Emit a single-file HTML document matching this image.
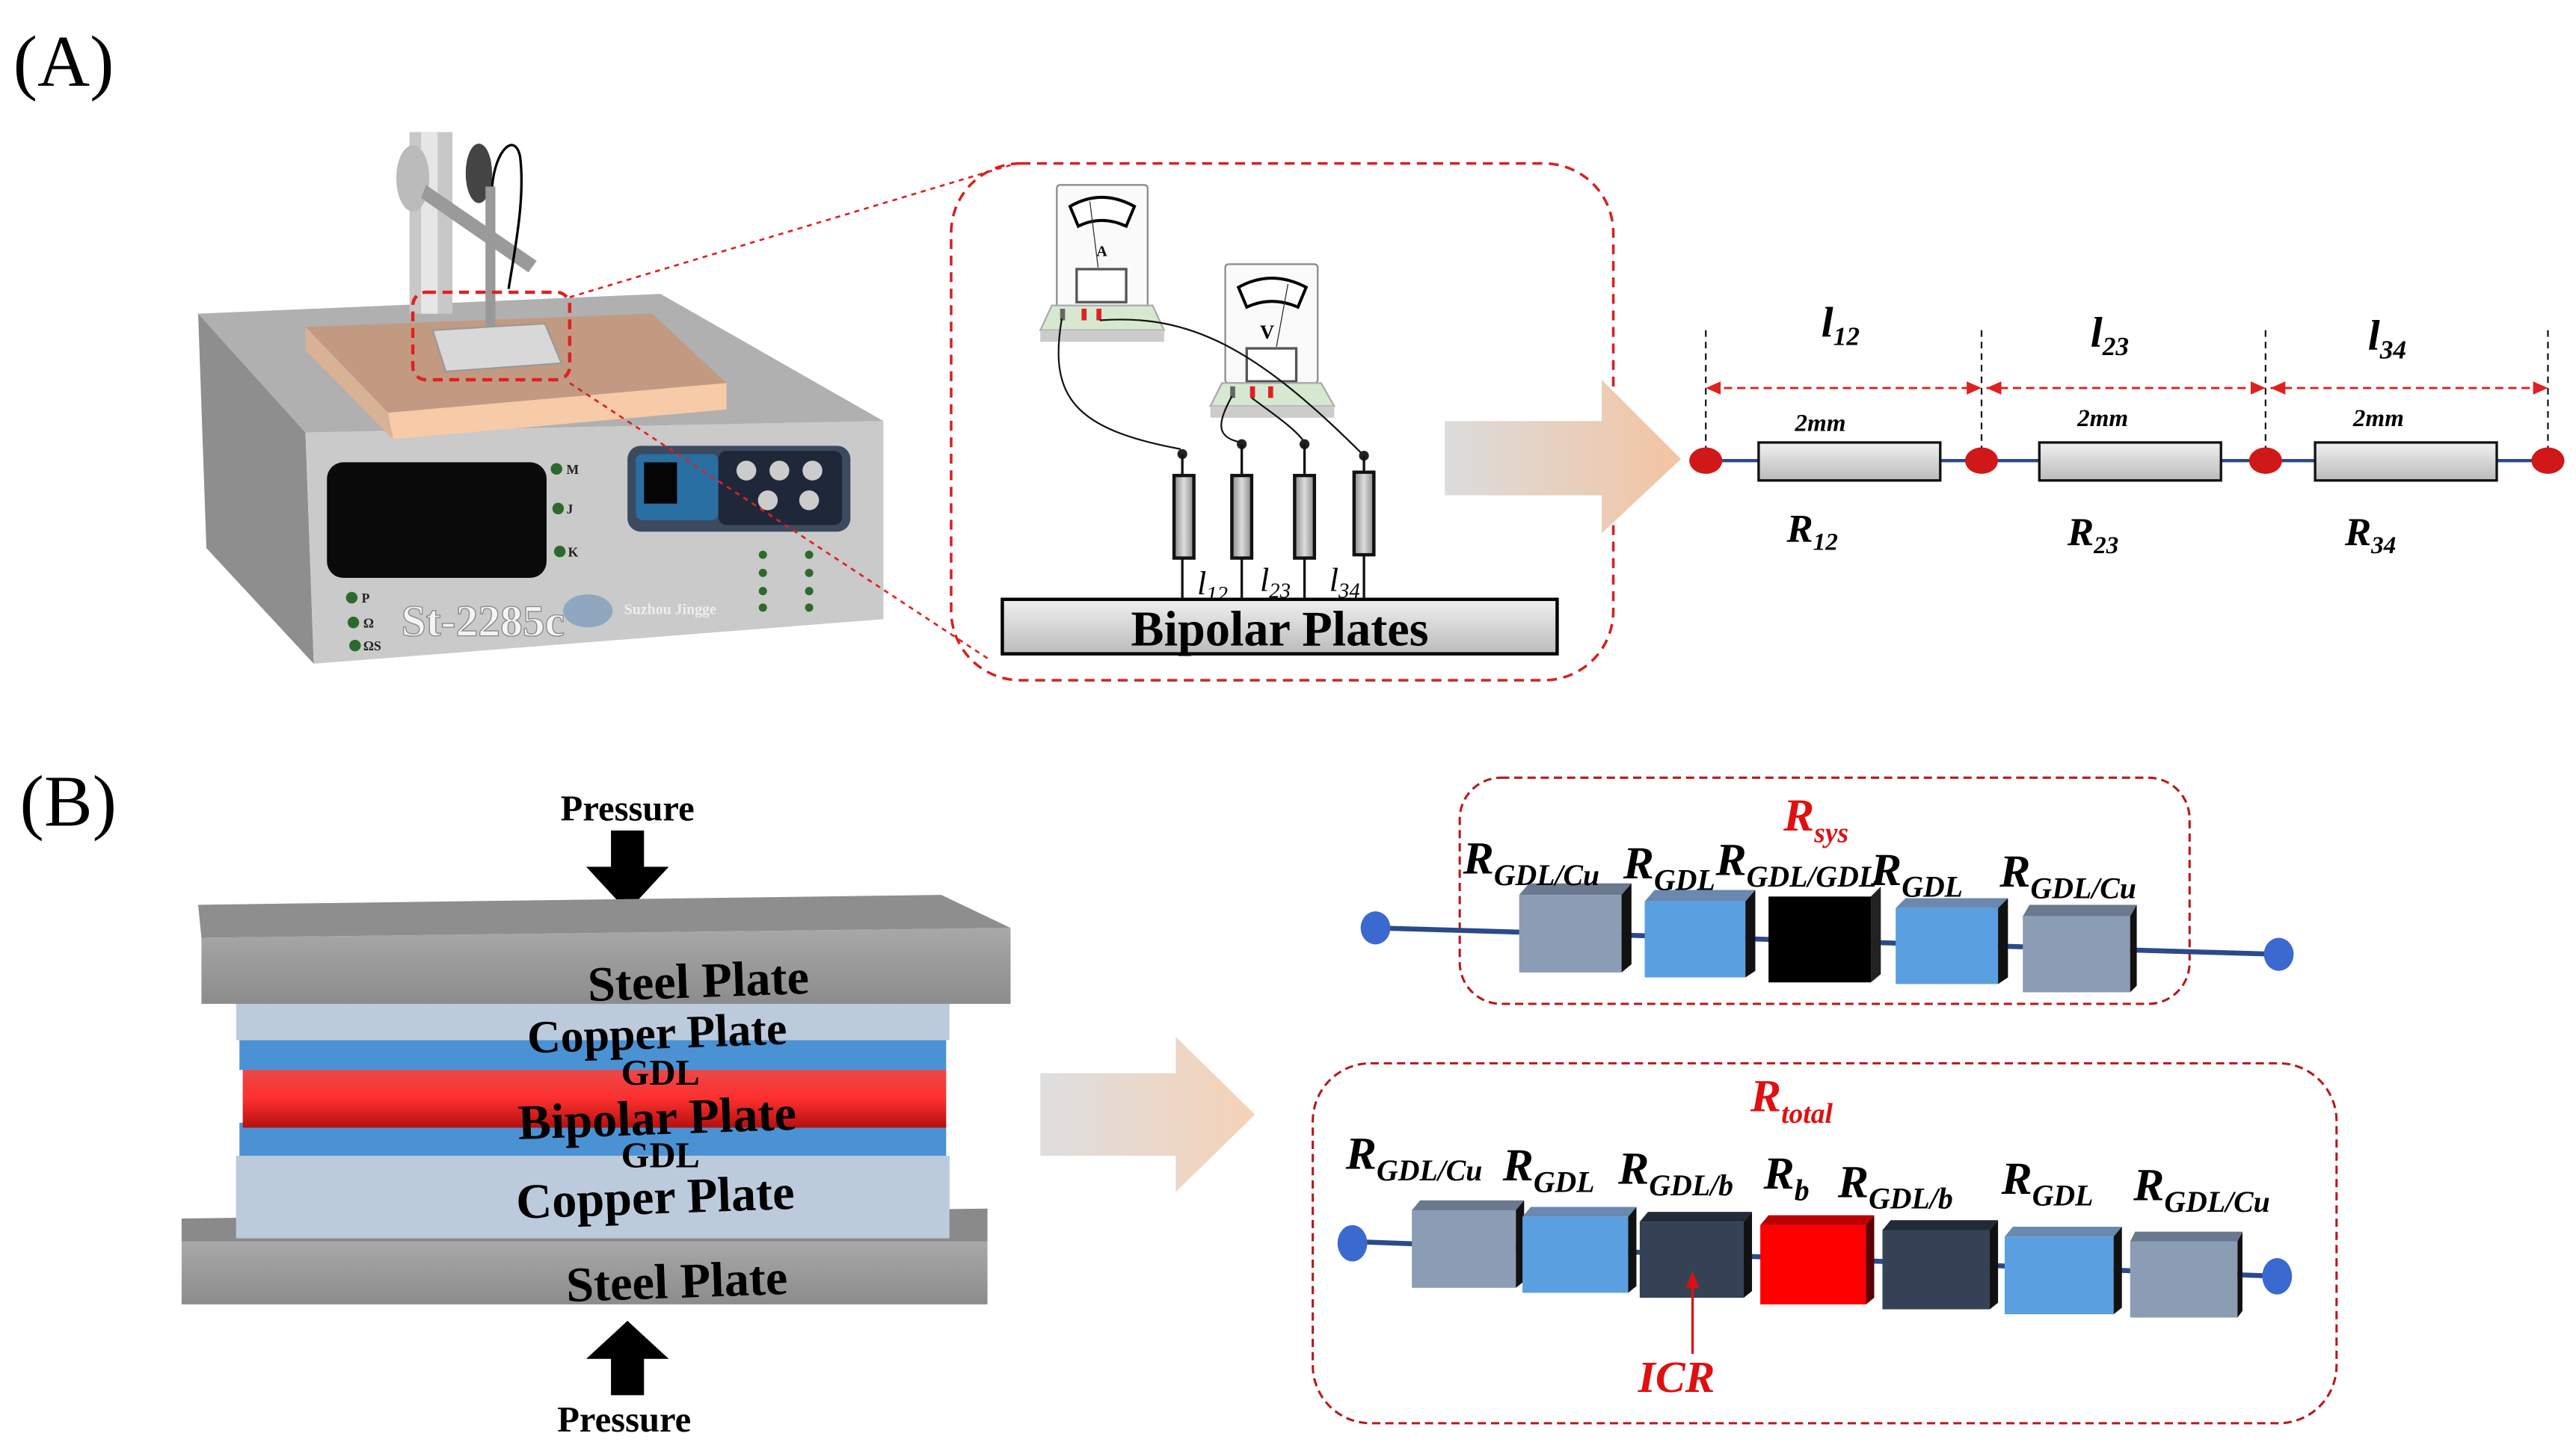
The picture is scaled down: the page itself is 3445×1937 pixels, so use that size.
<!DOCTYPE html>
<html><head><meta charset="utf-8"><style>
html,body{margin:0;padding:0;background:#fff;}
svg{display:block;}
text{font-family:"Liberation Serif",serif;}
</style></head><body>
<svg width="3445" height="1937" viewBox="0 0 1560 877" preserveAspectRatio="none" xmlns="http://www.w3.org/2000/svg">
<defs>
<linearGradient id="arr" x1="0" x2="1" y1="0" y2="0"><stop offset="0" stop-color="#dcdcdc"/><stop offset="1" stop-color="#f3c4a2"/></linearGradient>
<linearGradient id="arr2" x1="0" x2="1" y1="0" y2="0"><stop offset="0" stop-color="#dedede"/><stop offset="1" stop-color="#f6d2b8"/></linearGradient>
<linearGradient id="red" x1="0" x2="0" y1="0" y2="1"><stop offset="0" stop-color="#e84a4a"/><stop offset="0.5" stop-color="#ff3030"/><stop offset="1" stop-color="#b51010"/></linearGradient>
<linearGradient id="steel" x1="0" x2="0" y1="0" y2="1"><stop offset="0" stop-color="#a8a8a8"/><stop offset="1" stop-color="#8c8c8c"/></linearGradient>
<linearGradient id="res" x1="0" x2="1"><stop offset="0" stop-color="#888"/><stop offset="0.5" stop-color="#ddd"/><stop offset="1" stop-color="#888"/></linearGradient>
<linearGradient id="resh" x1="0" x2="0" y1="0" y2="1"><stop offset="0" stop-color="#f0f0f0"/><stop offset="1" stop-color="#bbb"/></linearGradient>
</defs>

<text x="8" y="52" font-size="44">(A)</text>

<polygon points="120,190 400,178 535,255 185,262" fill="#b0b0b0"/>
<polygon points="120,190 185,262 190,402 125,332" fill="#8e8e8e"/>
<polygon points="185,262 535,255 535,375 190,402" fill="#cacaca"/>
<polygon points="185,198 395,190 440,232 235,250" fill="#c29a82"/>
<polygon points="235,250 440,232 440,248 238,266" fill="#f7caa8"/>
<polygon points="185,198 235,250 238,266 185,212" fill="#d9b296"/>
<rect x="248" y="80" width="26" height="110" fill="#c8c8c8"/>
<rect x="255" y="80" width="10" height="110" fill="#e6e6e6"/>
<ellipse cx="250" cy="108" rx="10" ry="20" fill="#bbb"/>
<ellipse cx="290" cy="105" rx="8" ry="18" fill="#444"/>
<polygon points="258,112 325,158 320,165 255,120" fill="#9a9a9a"/>
<rect x="294" y="113" width="6" height="85" fill="#999"/>
<path d="M298,113 C300,90 312,80 315,95 C318,120 312,150 308,175" stroke="#000" fill="none" stroke-width="1.5"/>
<polygon points="262,200 330,196 340,220 270,225" fill="#d8d8d8" stroke="#999"/>
<rect x="198" y="280" width="133" height="70" rx="10" fill="#0a0a0a"/>
<rect x="380" y="270" width="135" height="52" rx="8" fill="#3b4a5e"/>
<rect x="385" y="275" width="50" height="40" rx="4" fill="#2a6fa3"/>
<rect x="390" y="280" width="20" height="25" fill="#050505"/>
<rect x="435" y="273" width="75" height="45" rx="5" fill="#1f2838"/>
<circle cx="452" cy="285" r="6" fill="#ccc"/><circle cx="472" cy="285" r="6" fill="#ccc"/><circle cx="492" cy="285" r="6" fill="#ccc"/>
<circle cx="465" cy="303" r="6" fill="#ccc"/><circle cx="490" cy="303" r="6" fill="#ccc"/>
<g fill="#2c6a2c"><circle cx="213" cy="362" r="3.5"/><circle cx="214" cy="377" r="3.5"/><circle cx="215" cy="391" r="3.5"/><circle cx="337" cy="284" r="3.5"/><circle cx="338" cy="308" r="3.5"/><circle cx="339" cy="334" r="3.5"/>
<circle cx="462" cy="336" r="2.5"/><circle cx="462" cy="347" r="2.5"/><circle cx="462" cy="358" r="2.5"/><circle cx="462" cy="368" r="2.5"/><circle cx="490" cy="336" r="2.5"/><circle cx="490" cy="347" r="2.5"/><circle cx="490" cy="358" r="2.5"/><circle cx="490" cy="368" r="2.5"/></g>
<g font-size="8" font-weight="bold" fill="#222"><text x="219" y="365">P</text><text x="220" y="380">Ω</text><text x="220" y="394">ΩS</text><text x="343" y="287">M</text><text x="343" y="311">J</text><text x="344" y="337">K</text></g>
<text x="243" y="385" font-size="27" font-weight="bold" fill="#f4f4f4" stroke="#888" stroke-width="0.6">St-2285c</text>
<ellipse cx="356" cy="370" rx="15" ry="10" fill="#8fa8c0"/>
<text x="378" y="372" font-size="9" fill="#eee" font-weight="bold">Suzhou Jingge</text>

<rect x="250" y="177" width="95" height="53" rx="8" fill="none" stroke="#e02020" stroke-width="2" stroke-dasharray="6,4"/>
<line x1="345" y1="180" x2="612" y2="100" stroke="#e02020" stroke-width="1.2" stroke-dasharray="3,3"/>
<line x1="345" y1="232" x2="600" y2="400" stroke="#e02020" stroke-width="1.2" stroke-dasharray="3,3"/>

<rect x="576" y="99" width="401" height="313" rx="42" fill="none" stroke="#d92020" stroke-width="1.6" stroke-dasharray="6,4"/>
<rect x="640" y="112" width="55" height="75" rx="2" fill="#fafafa" stroke="#888"/>
<path d="M648,125 Q667,114 687,125 L682,137 Q667,130 653,137 Z" fill="#fff" stroke="#000" stroke-width="1.8"/>
<line x1="660" y1="122" x2="665" y2="162" stroke="#333" stroke-width="0.6"/>
<text x="664" y="155" font-size="9" font-weight="bold">A</text>
<rect x="652" y="163" width="30" height="20" fill="#fff" stroke="#555" stroke-width="1.5"/>
<polygon points="637,185 698,185 705,200 630,200" fill="#d6e8d0" stroke="#aaa"/>
<rect x="630" y="200" width="75" height="7" fill="#ccc"/>
<rect x="642" y="187" width="3" height="7" fill="#666"/><rect x="655" y="187" width="3" height="7" fill="#e02020"/><rect x="664" y="187" width="3" height="7" fill="#e02020"/>
<rect x="742" y="160" width="56" height="72" rx="2" fill="#fafafa" stroke="#888"/>
<path d="M750,174 Q770,163 791,174 L786,186 Q770,179 755,186 Z" fill="#fff" stroke="#000" stroke-width="1.8"/>
<line x1="780" y1="172" x2="773" y2="210" stroke="#333" stroke-width="0.6"/>
<text x="763" y="205" font-size="12" font-weight="bold">V</text>
<rect x="755" y="211" width="30" height="20" fill="#fff" stroke="#555" stroke-width="1.5"/>
<polygon points="740,232 800,232 808,246 733,246" fill="#d6e8d0" stroke="#aaa"/>
<rect x="733" y="246" width="75" height="7" fill="#ccc"/>
<rect x="745" y="234" width="3" height="7" fill="#666"/><rect x="757" y="234" width="3" height="7" fill="#e02020"/><rect x="768" y="234" width="3" height="7" fill="#e02020"/>
<g stroke="#111" fill="none" stroke-width="1"><path d="M643,193 C635,240 650,260 715,272"/><path d="M666,194 C720,190 760,210 825,275"/><path d="M746,240 C738,255 735,265 752,268"/><path d="M758,241 C770,250 785,260 790,268"/></g>
<g fill="#222"><circle cx="716" cy="275" r="3"/><circle cx="752" cy="269" r="3"/><circle cx="790" cy="269" r="3"/><circle cx="826" cy="276" r="3"/></g>
<g stroke="#111" stroke-width="1.5"><line x1="716" y1="275" x2="716" y2="362"/><line x1="752" y1="269" x2="752" y2="362"/><line x1="790" y1="269" x2="790" y2="362"/><line x1="826" y1="276" x2="826" y2="362"/></g>
<g fill="url(#res)" stroke="#111" stroke-width="2"><rect x="711" y="288" width="12" height="50"/><rect x="746" y="288" width="12" height="50"/><rect x="784" y="288" width="12" height="50"/><rect x="820" y="286" width="12" height="50"/></g>
<g font-size="20" font-style="italic"><text x="725" y="360">l<tspan font-size="13" dy="4">12</tspan></text><text x="763" y="358">l<tspan font-size="13" dy="4">23</tspan></text><text x="805" y="358">l<tspan font-size="13" dy="4">34</tspan></text></g>
<rect x="607" y="363" width="336" height="33" fill="url(#resh)" stroke="#000" stroke-width="2"/>
<text x="775" y="391" font-size="30" font-weight="bold" text-anchor="middle">Bipolar Plates</text>

<polygon points="875,255 970,255 970,230 1018,278 970,323 970,300 875,300" fill="url(#arr)"/>

<g stroke="#111" stroke-dasharray="4,3" stroke-width="1"><line x1="1033" y1="200" x2="1033" y2="276"/><line x1="1200" y1="200" x2="1200" y2="276"/><line x1="1372" y1="200" x2="1372" y2="276"/><line x1="1543" y1="200" x2="1543" y2="276"/></g>
<g stroke="#e02020" stroke-dasharray="5,3" stroke-width="1.3"><line x1="1036" y1="235" x2="1197" y2="235"/><line x1="1203" y1="235" x2="1369" y2="235"/><line x1="1375" y1="235" x2="1540" y2="235"/></g>
<g fill="#e02020"><polygon points="1033,235 1042,231 1042,239"/><polygon points="1200,235 1191,231 1191,239"/><polygon points="1203,235 1212,231 1212,239"/><polygon points="1372,235 1363,231 1363,239"/><polygon points="1375,235 1384,231 1384,239"/><polygon points="1543,235 1534,231 1534,239"/></g>
<line x1="1033" y1="279" x2="1545" y2="279" stroke="#2a4a8a" stroke-width="2"/>
<g fill="url(#resh)" stroke="#111" stroke-width="1.5"><rect x="1065" y="268" width="110" height="23"/><rect x="1235" y="268" width="110" height="23"/><rect x="1402" y="268" width="110" height="23"/></g>
<g fill="#d01818"><ellipse cx="1033" cy="279" rx="10" ry="8"/><ellipse cx="1200" cy="279" rx="10" ry="8"/><ellipse cx="1372" cy="279" rx="10" ry="8"/><ellipse cx="1543" cy="279" rx="10" ry="8"/></g>
<g font-style="italic" font-weight="bold">
<text x="1103" y="204" font-size="26">l<tspan font-size="16" dy="5">12</tspan></text>
<text x="1266" y="210" font-size="26">l<tspan font-size="16" dy="5">23</tspan></text>
<text x="1434" y="212" font-size="26">l<tspan font-size="16" dy="5">34</tspan></text>
<text x="1087" y="261" font-size="15">2mm</text><text x="1258" y="258" font-size="15">2mm</text><text x="1425" y="258" font-size="15">2mm</text>
<text x="1082" y="328" font-size="24">R<tspan font-size="15" dy="5">12</tspan></text>
<text x="1252" y="330" font-size="24">R<tspan font-size="15" dy="5">23</tspan></text>
<text x="1420" y="330" font-size="24">R<tspan font-size="15" dy="5">34</tspan></text>
</g>

<text x="12" y="500" font-size="44">(B)</text>
<text x="380" y="497" font-size="22" font-weight="bold" text-anchor="middle">Pressure</text>
<polygon points="370,503 390,503 390,525 405,525 380,552 355,525 370,525" fill="#000"/>
<polygon points="380,800 405,823 390,823 390,845 370,845 370,823 355,823" fill="#000"/>
<text x="378" y="867" font-size="22" font-weight="bold" text-anchor="middle">Pressure</text>

<polygon points="143,748 575,748 575,700 143,700" fill="#b8c6d8"/>
<polygon points="110,738 598,732 598,752 110,752" fill="#8a8a8a"/>
<rect x="110" y="752" width="488" height="38" fill="url(#steel)"/>
<text x="410" y="786" font-size="30" font-weight="bold" text-anchor="middle" transform="rotate(-2 410 780)">Steel Plate</text>
<rect x="143" y="700" width="432" height="50" fill="#bccbdc"/>
<text x="397" y="735" font-size="30" font-weight="bold" text-anchor="middle" transform="rotate(-2 397 730)">Copper Plate</text>
<rect x="145" y="680" width="428" height="20" fill="#4a92d4"/>
<text x="400" y="707" font-size="22" font-weight="bold" text-anchor="middle">GDL</text>
<rect x="147" y="647" width="426" height="36" fill="url(#red)"/>
<text x="398" y="687" font-size="30" font-weight="bold" text-anchor="middle" transform="rotate(-2 398 680)">Bipolar Plate</text>
<rect x="145" y="630" width="428" height="18" fill="#4a92d4"/>
<text x="400" y="657" font-size="22" font-weight="bold" text-anchor="middle">GDL</text>
<rect x="143" y="600" width="432" height="30" fill="#bccbdc"/>
<text x="398" y="635" font-size="28" font-weight="bold" text-anchor="middle" transform="rotate(-2 398 630)">Copper Plate</text>
<polygon points="120,548 570,542 612,562 122,568" fill="#8e8e8e"/>
<polygon points="122,568 612,562 612,608 122,608" fill="url(#steel)"/>
<text x="423" y="604" font-size="30" font-weight="bold" text-anchor="middle" transform="rotate(-2 423 598)">Steel Plate</text>

<polygon points="630,650 712,650 712,628 760,675 712,722 712,700 630,700" fill="url(#arr2)"/>

<rect x="884" y="471" width="442" height="137" rx="25" fill="none" stroke="#b81a1a" stroke-width="1.4" stroke-dasharray="5,3"/>
<line x1="833" y1="562" x2="1380" y2="578" stroke="#2a4a8a" stroke-width="3"/>
<ellipse cx="833" cy="562" rx="9" ry="10" fill="#3a6ad0"/><ellipse cx="1380" cy="578" rx="9" ry="10" fill="#3a6ad0"/>
<g>
<polygon points="920,542 982,542 988,535 926,535" fill="#6a7890"/><rect x="920" y="542" width="62" height="47" fill="#8b9db4"/><polygon points="982,542 988,535 988,584 982,589" fill="#111"/>
<polygon points="996,546 1057,546 1063,539 1002,539" fill="#6a88b0"/><rect x="996" y="546" width="61" height="46" fill="#5aa0e0"/><polygon points="1057,546 1063,539 1063,588 1057,592" fill="#111"/>
<rect x="1071" y="543" width="62" height="52" fill="#000"/><polygon points="1133,543 1139,537 1139,590 1133,595" fill="#222"/>
<polygon points="1148,550 1210,550 1216,544 1154,544" fill="#6a88b0"/><rect x="1148" y="550" width="62" height="46" fill="#5aa0e0"/><polygon points="1210,550 1216,544 1216,592 1210,596" fill="#111"/>
<polygon points="1225,555 1290,555 1294,548 1229,548" fill="#6a7890"/><rect x="1225" y="555" width="65" height="46" fill="#8b9db4"/><polygon points="1290,555 1294,548 1294,597 1290,601" fill="#111"/>
</g>
<g font-style="italic" font-weight="bold">
<text x="1080" y="503" font-size="28" fill="#e01010">R<tspan font-size="17" dy="7">sys</tspan></text>
<text x="886" y="529" font-size="28">R<tspan font-size="18" dy="7">GDL/Cu</tspan></text>
<text x="983" y="532" font-size="28">R<tspan font-size="18" dy="7">GDL</tspan></text>
<text x="1039" y="530" font-size="28">R<tspan font-size="18" dy="7">GDL/GDL</tspan></text>
<text x="1133" y="536" font-size="28">R<tspan font-size="18" dy="7">GDL</tspan></text>
<text x="1211" y="537" font-size="28">R<tspan font-size="18" dy="7">GDL/Cu</tspan></text>
</g>

<rect x="795" y="644" width="620" height="218" rx="35" fill="none" stroke="#b81a1a" stroke-width="1.4" stroke-dasharray="5,3"/>
<line x1="820" y1="752" x2="1380" y2="773" stroke="#2a4a8a" stroke-width="3"/>
<ellipse cx="819" cy="753" rx="9" ry="11" fill="#3a6ad0"/><ellipse cx="1379" cy="773" rx="9" ry="11" fill="#3a6ad0"/>
<g>
<polygon points="855,733 918,733 923,727 860,727" fill="#6a7890"/><rect x="855" y="733" width="63" height="47" fill="#8b9db4"/><polygon points="918,733 923,727 923,776 918,780" fill="#111"/>
<polygon points="922,737 986,737 991,731 927,731" fill="#6a88b0"/><rect x="922" y="737" width="64" height="46" fill="#5aa0e0"/><polygon points="986,737 991,731 991,779 986,783" fill="#111"/>
<polygon points="993,740 1056,740 1061,734 998,734" fill="#222a38"/><rect x="993" y="740" width="63" height="46" fill="#354255"/><polygon points="1056,740 1061,734 1061,782 1056,786" fill="#111"/>
<polygon points="1066,742 1130,742 1135,736 1071,736" fill="#b00"/><rect x="1066" y="742" width="64" height="48" fill="#ff0000"/><polygon points="1130,742 1135,736 1135,786 1130,790" fill="#5a0000"/>
<polygon points="1140,745 1205,745 1210,739 1145,739" fill="#222a38"/><rect x="1140" y="745" width="65" height="48" fill="#354255"/><polygon points="1205,745 1210,739 1210,789 1205,793" fill="#111"/>
<polygon points="1214,749 1280,749 1285,743 1219,743" fill="#6a88b0"/><rect x="1214" y="749" width="66" height="47" fill="#5aa0e0"/><polygon points="1280,749 1285,743 1285,792 1280,796" fill="#111"/>
<polygon points="1290,752 1355,752 1358,746 1293,746" fill="#6a7890"/><rect x="1290" y="752" width="65" height="46" fill="#8b9db4"/><polygon points="1355,752 1358,746 1358,794 1355,798" fill="#111"/>
</g>
<line x1="1025" y1="820" x2="1025" y2="775" stroke="#e01010" stroke-width="1.5"/>
<polygon points="1025,770 1021,780 1029,780" fill="#e01010"/>
<g font-style="italic" font-weight="bold">
<text x="1060" y="673" font-size="28" fill="#e01010">R<tspan font-size="17" dy="7">total</tspan></text>
<text x="992" y="843" font-size="27" fill="#e01010">ICR</text>
<text x="815" y="708" font-size="28">R<tspan font-size="18" dy="7">GDL/Cu</tspan></text>
<text x="910" y="715" font-size="28">R<tspan font-size="18" dy="7">GDL</tspan></text>
<text x="980" y="717" font-size="28">R<tspan font-size="18" dy="7">GDL/b</tspan></text>
<text x="1068" y="720" font-size="28">R<tspan font-size="18" dy="7">b</tspan></text>
<text x="1113" y="725" font-size="28">R<tspan font-size="18" dy="7">GDL/b</tspan></text>
<text x="1212" y="723" font-size="28">R<tspan font-size="18" dy="7">GDL</tspan></text>
<text x="1292" y="727" font-size="28">R<tspan font-size="18" dy="7">GDL/Cu</tspan></text>
</g>
</svg>
</body></html>
